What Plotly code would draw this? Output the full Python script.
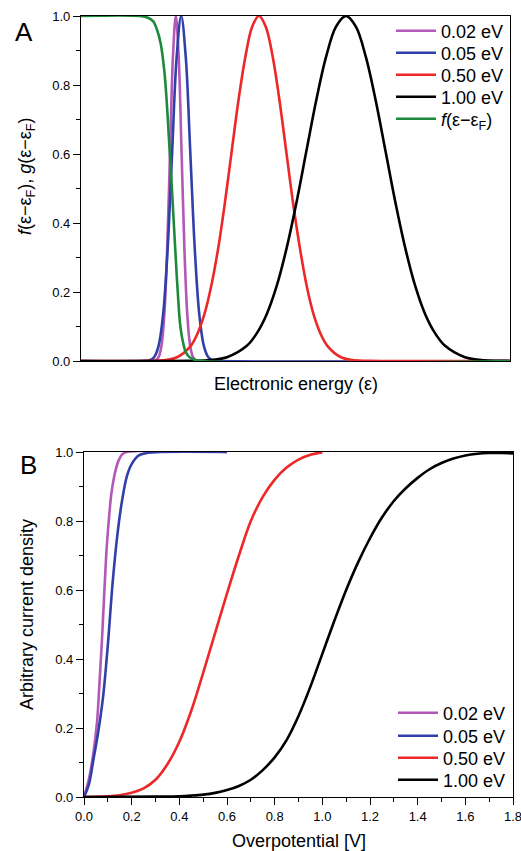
import plotly.graph_objects as go

# ---------------- Panel A data (energy relative to E_F, eV; arbitrary axis) ----------------
names = ["0.02 eV", "0.05 eV", "0.50 eV", "1.00 eV"]
fermi_name = "<i>f</i>(ε−ε<sub>F</sub>)"

a_x_002 = [-0.523, -0.11, -0.0935, -0.077, -0.0605, -0.044, -0.0275, -0.011, 0.0055, 0.022,
           0.0385, 0.055, 0.0715, 0.088, 0.1045, 0.121, 0.1375, 0.154, 1.943]
a_y_002 = [0.0, 0.0003, 0.002, 0.011, 0.044, 0.135, 0.325, 0.607, 0.882, 1.0,
           0.882, 0.607, 0.325, 0.135, 0.044, 0.011, 0.002, 0.0003, 0.0]

a_x_005 = [-0.523, -0.155, -0.129, -0.103, -0.077, -0.051, -0.025, 0.001, 0.027, 0.053,
           0.079, 0.105, 0.131, 0.157, 0.183, 0.209, 0.235, 0.261, 1.943]
a_y_005 = [0.0, 0.0003, 0.002, 0.011, 0.044, 0.135, 0.325, 0.607, 0.882, 1.0,
           0.882, 0.607, 0.325, 0.135, 0.044, 0.011, 0.002, 0.0003, 0.0]

a_x_050 = [-0.523, -0.128, -0.050, 0.029, 0.108, 0.147, 0.186, 0.225, 0.265, 0.304, 0.343,
           0.382, 0.422, 0.461, 0.5, 0.539, 0.579, 0.618, 0.657, 0.696, 0.736, 0.775,
           0.814, 0.853, 0.893, 0.971, 1.050, 1.128, 1.943]
a_y_050 = [0.0, 0.0003, 0.002, 0.011, 0.044, 0.080, 0.135, 0.216, 0.325, 0.458, 0.607,
           0.755, 0.882, 0.969, 1.0, 0.969, 0.882, 0.755, 0.607, 0.458, 0.325, 0.216,
           0.135, 0.080, 0.044, 0.011, 0.002, 0.0003, 0.0]

a_x_100 = [-0.523, 0.088, 0.202, 0.316, 0.43, 0.487, 0.544, 0.601, 0.658, 0.715, 0.772,
           0.829, 0.886, 0.943, 1.0, 1.057, 1.114, 1.171, 1.228, 1.285, 1.342, 1.399,
           1.456, 1.513, 1.57, 1.684, 1.798, 1.912, 1.943]
a_y_100 = [0.0, 0.0003, 0.002, 0.011, 0.044, 0.080, 0.135, 0.216, 0.325, 0.458, 0.607,
           0.755, 0.882, 0.969, 1.0, 0.969, 0.882, 0.755, 0.607, 0.458, 0.325, 0.216,
           0.135, 0.080, 0.044, 0.011, 0.002, 0.0003, 0.0]

fermi_x = [-0.523, -0.184, -0.138, -0.109, -0.086, -0.065, -0.044, -0.030, -0.017, -0.006,
           0.006, 0.017, 0.027, 0.037, 0.046, 0.061, 0.080, 0.103, 0.144, 1.943]
fermi_y = [1.0, 1.0, 0.995, 0.985, 0.96, 0.92, 0.84, 0.75, 0.64, 0.55,
           0.44, 0.34, 0.25, 0.17, 0.11, 0.06, 0.025, 0.01, 0.002, 0.0]

# ---------------- Panel B data (overpotential, V) ----------------
b_x_002 = [0.0, 0.02, 0.04, 0.055, 0.065, 0.075, 0.085, 0.095, 0.105, 0.115, 0.13, 0.145, 0.16, 0.18, 0.6]
b_y_002 = [0.0, 0.05, 0.13, 0.22, 0.33, 0.45, 0.59, 0.72, 0.81, 0.88, 0.94, 0.975, 0.993, 1.0, 1.0]

b_x_005 = [0.0, 0.02, 0.04, 0.06, 0.08, 0.10, 0.12, 0.14, 0.16, 0.18, 0.20, 0.23, 0.27, 0.32, 0.6]
b_y_005 = [0.0, 0.035, 0.11, 0.19, 0.29, 0.44, 0.62, 0.76, 0.86, 0.93, 0.965, 0.99, 0.998, 1.0, 1.0]

b_x_050 = [0.0, 0.10, 0.15, 0.20, 0.25, 0.30, 0.35, 0.40, 0.45, 0.50, 0.55, 0.60,
           0.65, 0.70, 0.75, 0.80, 0.85, 0.90, 0.95, 1.00]
b_y_050 = [0.0, 0.002, 0.005, 0.012, 0.025, 0.05, 0.095, 0.16, 0.25, 0.36, 0.475, 0.59,
           0.70, 0.80, 0.87, 0.92, 0.955, 0.978, 0.992, 0.999]

b_x_100 = [0.0, 0.30, 0.40, 0.45, 0.50, 0.55, 0.60, 0.65, 0.70, 0.75, 0.80, 0.85, 0.90,
           0.95, 1.00, 1.05, 1.10, 1.15, 1.20, 1.25, 1.30, 1.35, 1.40, 1.45, 1.50, 1.55,
           1.60, 1.65, 1.70, 1.75, 1.80]
b_y_100 = [0.0, 0.001, 0.002, 0.004, 0.007, 0.012, 0.02, 0.032, 0.05, 0.078, 0.115, 0.165,
           0.235, 0.32, 0.415, 0.51, 0.60, 0.68, 0.75, 0.81, 0.858, 0.895, 0.925, 0.95, 0.968,
           0.981, 0.99, 0.995, 0.997, 0.997, 0.996]

colors = ["rgb(178,88,182)", "rgb(48,64,168)", "rgb(236,40,40)", "rgb(0,0,0)"]
green = "rgb(28,138,58)"

W, H = 521, 851
FONT = "Liberation Sans, Arial, sans-serif"


def px_x(p):
    return p / W


def px_y(p):
    return 1 - p / H


fig = go.Figure()
LW = 2.6

# legend rows (pixel centres) for each entry
rows_a = [31, 53, 75, 97, 119]
rows_b = [713, 736, 758, 780]
legend_layout = {}


def leg(key, row, left):
    legend_layout[key] = dict(x=px_x(left), y=px_y(row), xanchor="left", yanchor="middle",
                              bgcolor="rgba(0,0,0,0)", borderwidth=0, itemwidth=40,
                              font=dict(family=FONT, size=18, color="black"))


a_series = [(a_x_002, a_y_002), (a_x_005, a_y_005), (a_x_050, a_y_050), (a_x_100, a_y_100)]
k = 1
for (xs, ys), name, c, r in zip(a_series, names, colors, rows_a):
    key = "legend" if k == 1 else f"legend{k}"
    fig.add_trace(go.Scatter(x=xs, y=ys, name=name, mode="lines",
                             line=dict(color=c, width=LW, shape="spline", smoothing=1.0),
                             xaxis="x", yaxis="y", legend=key))
    leg(key, r, 391)
    k += 1
key = f"legend{k}"
fig.add_trace(go.Scatter(x=fermi_x, y=fermi_y, name=fermi_name, mode="lines",
                         line=dict(color=green, width=LW, shape="spline", smoothing=1.0),
                         xaxis="x", yaxis="y", legend=key))
leg(key, rows_a[4], 391)
k += 1

b_series = [(b_x_002, b_y_002), (b_x_005, b_y_005), (b_x_050, b_y_050), (b_x_100, b_y_100)]
for (xs, ys), name, c, r in zip(b_series, names, colors, rows_b):
    key = f"legend{k}"
    fig.add_trace(go.Scatter(x=xs, y=ys, name=name, mode="lines",
                             line=dict(color=c, width=LW, shape="spline", smoothing=1.0),
                             xaxis="x2", yaxis="y2", legend=key))
    leg(key, r, 393)
    k += 1

axis_common = dict(showline=True, linecolor="black", linewidth=1.2, mirror=True,
                   showgrid=False, zeroline=False, automargin=False,
                   ticklabeloverflow="allow",
                   tickfont=dict(family=FONT, size=13, color="black"))

yax = dict(axis_common, range=[0, 1], tick0=0, dtick=0.2, tickformat=".1f",
           ticks="outside", ticklen=7, tickwidth=1.2, tickcolor="black",
           minor=dict(dtick=0.1, ticks="outside", ticklen=4, tickwidth=1.2, tickcolor="black"))

fig.update_layout(
    width=W, height=H,
    margin=dict(l=0, r=0, t=0, b=0, pad=0),
    paper_bgcolor="white", plot_bgcolor="white",
    font=dict(family=FONT, color="black"),
    xaxis=dict(axis_common, domain=[px_x(81), px_x(510)], range=[-0.523, 1.943],
               showticklabels=False, ticks="", anchor="y"),
    yaxis=dict(yax, domain=[px_y(361), px_y(16)], anchor="x"),
    xaxis2=dict(axis_common, domain=[px_x(84), px_x(513)], range=[0, 1.80001],
                tick0=0, dtick=0.2, tickformat=".1f",
                ticks="outside", ticklen=7, tickwidth=1.2, tickcolor="black",
                minor=dict(dtick=0.1, ticks="outside", ticklen=4, tickwidth=1.2, tickcolor="black"),
                anchor="y2"),
    yaxis2=dict(yax, domain=[px_y(797), px_y(452)], anchor="x2"),
    showlegend=True,
    **legend_layout,
)

ann = [
    dict(text="A", x=px_x(24), y=px_y(32), font=dict(size=26)),
    dict(text="B", x=px_x(28.5), y=px_y(465), font=dict(size=26)),
    dict(text="Electronic energy (ε)", x=px_x(295.5), y=px_y(384), font=dict(size=18)),
    dict(text="Overpotential [V]", x=px_x(298.5), y=px_y(841), font=dict(size=18)),
    dict(text="<i>f</i>(ε−ε<sub>F</sub>), <i>g</i>(ε−ε<sub>F</sub>)", x=px_x(27), y=px_y(176),
         textangle=-90, font=dict(size=18)),
    dict(text="Arbitrary current density", x=px_x(27), y=px_y(615), textangle=-90,
         font=dict(size=18)),
]
for a in ann:
    a.update(xref="paper", yref="paper", showarrow=False, xanchor="center", yanchor="middle")
    a["font"] = dict(family=FONT, color="black", **a["font"])
fig.update_layout(annotations=ann)

fig.write_html("out.html", config={"displayModeBar": False},
               post_script="document.body.style.margin='0px';document.body.style.padding='0px';")
